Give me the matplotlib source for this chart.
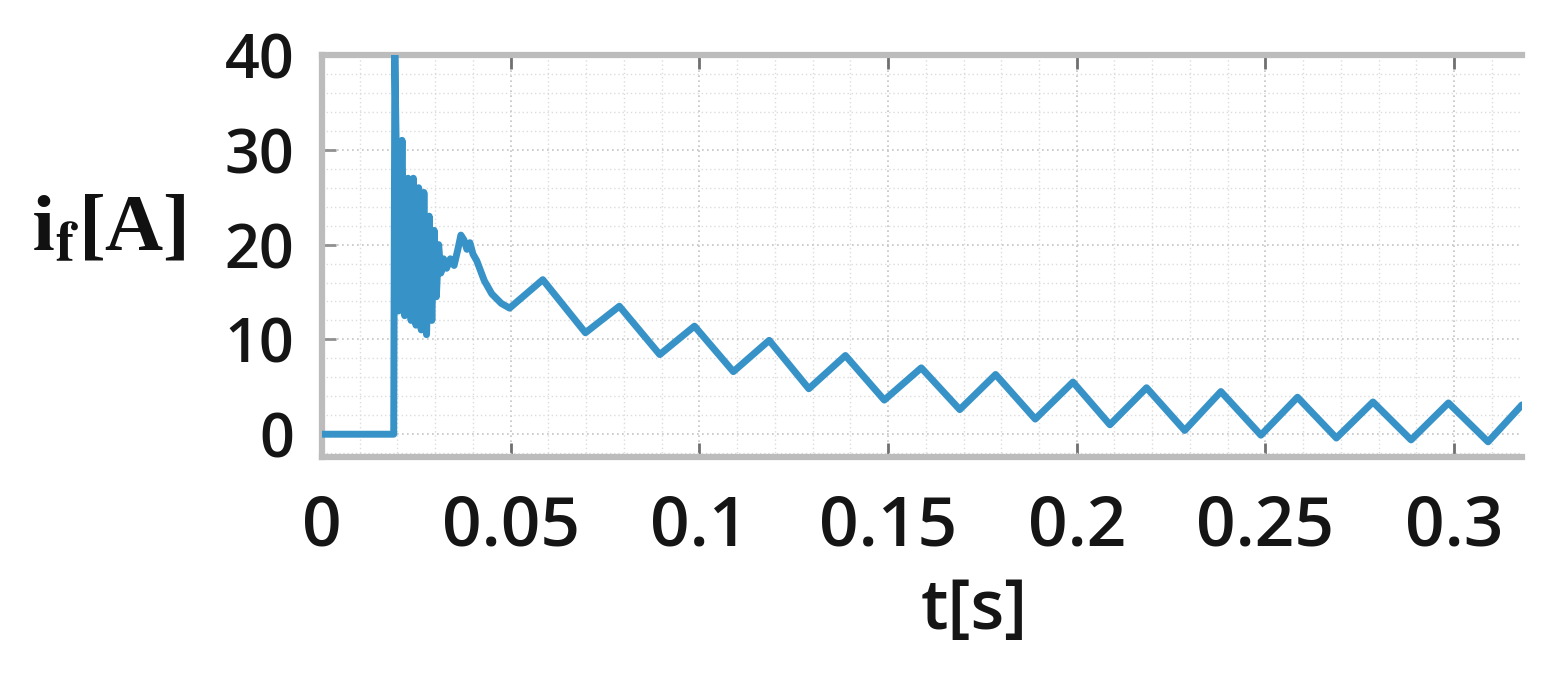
import matplotlib
matplotlib.use("Agg")
import matplotlib.pyplot as plt
from matplotlib.ticker import MultipleLocator, FixedLocator

# ---- data ----
t_values = [
    0.0000, 0.0190, 0.0193, 0.0203, 0.0212, 0.0219, 0.0228, 0.0236, 0.0242,
    0.0249, 0.0256, 0.0263, 0.0270, 0.0277, 0.0284, 0.0291, 0.0297, 0.0303,
    0.0309, 0.0315, 0.0322, 0.0330, 0.0340, 0.0350, 0.0360, 0.0368, 0.0376,
    0.0384, 0.0392, 0.0400, 0.0410, 0.0430, 0.0450, 0.0475,
    0.0497, 0.0585, 0.0698, 0.0788, 0.0895, 0.0987, 0.1090, 0.1185, 0.1290,
    0.1387, 0.1490, 0.1588, 0.1690, 0.1785, 0.1890, 0.1990, 0.2088, 0.2185,
    0.2286, 0.2382, 0.2488, 0.2585, 0.2688, 0.2785, 0.2886, 0.2985, 0.3090,
    0.3180,
]
i_values = [
    0.0, 0.0, 40.0, 13.0, 31.0, 12.5, 27.0, 12.0, 27.0,
    11.5, 26.0, 11.0, 25.5, 10.5, 23.0, 12.0, 21.5, 14.5,
    20.0, 17.0, 18.5, 17.5, 18.5, 17.8, 19.5, 21.0, 20.5,
    19.5, 20.2, 19.0, 18.3, 16.2, 14.8, 13.8,
    13.3, 16.3, 10.7, 13.5, 8.4, 11.4, 6.6, 9.9, 4.8,
    8.3, 3.6, 7.0, 2.6, 6.3, 1.6, 5.5, 1.0, 4.9,
    0.4, 4.5, -0.1, 3.9, -0.4, 3.4, -0.6, 3.3, -0.8,
    3.1,
]
x_ticks = [0, 0.05, 0.1, 0.15, 0.2, 0.25, 0.3]
x_tick_labels = ["0", "0.05", "0.1", "0.15", "0.2", "0.25", "0.3"]
y_ticks = [0, 10, 20, 30, 40]
y_tick_labels = ["0", "10", "20", "30", "40"]

tick_font = ["Open Sans", "DejaVu Sans"]

fig = plt.figure(figsize=(15.67, 6.77), dpi=100)
ax = fig.add_axes([0.2055, 0.325, 0.7658, 0.5938])

ax.plot(t_values, i_values, color="#3793c7", lw=5.0,
        solid_joinstyle="round", solid_capstyle="round", zorder=3)

ax.set_xlim(0, 0.318)
ax.set_ylim(-2.4, 40)

ax.xaxis.set_major_locator(FixedLocator(x_ticks))
ax.yaxis.set_major_locator(FixedLocator(y_ticks))
ax.xaxis.set_minor_locator(MultipleLocator(0.01))
ax.yaxis.set_minor_locator(MultipleLocator(2))
ax.set_xticklabels(x_tick_labels)
ax.set_yticklabels(y_tick_labels)

ax.grid(which="major", color="#c4c4c4", linestyle=(0, (1, 2)), linewidth=1.2)
ax.grid(which="minor", color="#dcdcdc", linestyle=(0, (1, 2)), linewidth=1.0)
ax.set_axisbelow(True)

for side in ["top", "bottom", "left"]:
    ax.spines[side].set_color("#bcbcbc")
    ax.spines[side].set_linewidth(4.5)
ax.spines["right"].set_visible(False)

ax.tick_params(axis="x", which="major", direction="in", length=10, width=2,
               color="#707070", top=True, bottom=True, pad=26)
ax.tick_params(axis="y", which="major", direction="in", length=10, width=2,
               color="#909090", left=True, right=False, pad=20)
ax.tick_params(which="minor", length=0)

for lab in ax.get_xticklabels():
    lab.set_fontfamily(tick_font)
    lab.set_fontsize(50)
    lab.set_fontweight("semibold")
    lab.set_color("#151515")
for lab in ax.get_yticklabels():
    lab.set_fontfamily(tick_font)
    lab.set_fontsize(44)
    lab.set_fontweight("semibold")
    lab.set_color("#151515")

fig.text(974 / 1567, 1 - 612 / 677, "t[s]", ha="center", va="center",
         fontsize=50, fontweight="semibold", family=tick_font, color="#151515")

plt.rcParams["mathtext.fontset"] = "stix"
fig.text(109 / 1567, 1 - 232 / 677, r"$\mathbf{i}_{\mathbf{f}}$[A]",
         ha="center", va="center", fontsize=58, fontweight="bold",
         family=["Liberation Serif", "DejaVu Serif"], color="#111111")

fig.savefig("out.png", dpi=100, facecolor="white")
